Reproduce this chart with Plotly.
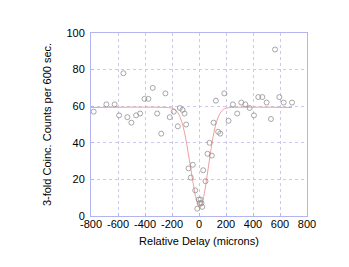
import plotly.graph_objects as go

# measured points
delay = [-780, -686, -625, -592, -560, -531, -501, -466, -436, -404, -375, -343, -310, -280,
         -249, -217, -187, -157, -142, -122, -107, -95, -78, -61, -46, -28, -13, -2, 6, 11,
         18, 24, 31, 48, 63, 78, 95, 108, 125, 142, 157, 187, 219, 251, 283, 313, 343, 375,
         407, 439, 469, 501, 533, 563, 595, 627, 689]
counts = [57, 61, 61, 55, 78, 54, 51, 55, 56, 64, 64, 70, 56, 45,
          67, 54, 57, 49, 59, 58, 56, 50, 26, 21, 28, 14, 4, 9, 7, 9,
          7, 5, 25, 19, 34, 40, 33, 51, 63, 46, 45, 67, 52, 61, 56, 62, 61, 59,
          55, 65, 65, 62, 53, 91, 65, 62, 62]

# fit curve
fit_x = [-800, -240, -200, -180, -160, -140, -120, -100, -80, -60, -40, -20, 0, 10, 20,
         40, 60, 80, 100, 120, 140, 160, 180, 200, 240, 690]
fit_y = [59.3, 59.3, 58.9, 58.2, 56.8, 54.0, 49.5, 43.0, 34.5, 25.5, 16.5, 9.0, 5.0, 4.8, 6.0,
         12.5, 22.0, 32.0, 41.5, 48.8, 53.6, 56.6, 58.2, 58.9, 59.3, 59.3]

x_ticks = [-800, -600, -400, -200, 0, 200, 400, 600, 800]
x_labels = ["-800", "-600", "-400", "-200", "0", "200", "400", "600", "800"]
y_ticks = [0, 20, 40, 60, 80, 100]
y_labels = ["0", "20", "40", "60", "80", "100"]

fig = go.Figure()
fig.add_trace(go.Scatter(x=fit_x, y=fit_y, mode="lines", line_shape="spline",
                         line=dict(color="#f0a0a0", width=1), hoverinfo="skip"))
fig.add_trace(go.Scatter(x=delay, y=counts, mode="markers",
                         marker=dict(symbol="circle-open", size=5, color="#909090",
                                     line=dict(width=0.8, color="#909090"))))

axis_common = dict(showline=True, linecolor="#b4b4f0", linewidth=1, mirror=True,
                   showgrid=True, gridcolor="#c8c8f0", griddash="dot", gridwidth=1,
                   zeroline=False, ticks="inside", ticklen=3, tickcolor="#b4b4f0",
                   automargin=False,
                   tickfont=dict(family="Liberation Sans, Arial", size=11, color="black"))

fig.update_layout(
    width=341, height=259,
    margin=dict(l=83, r=42, t=25, b=51),
    paper_bgcolor="white", plot_bgcolor="white",
    showlegend=False,
    font=dict(family="Liberation Sans, Arial", size=11, color="black"),
    xaxis=dict(range=[-800, 800], tickvals=x_ticks, ticktext=x_labels,
               ticklabelstandoff=-2,
               title=dict(text="Relative Delay (microns)", standoff=8,
                          font=dict(size=11)), **axis_common),
    yaxis=dict(range=[0, 100], tickvals=y_ticks, ticktext=y_labels,
               ticklabelstandoff=3,
               title=dict(text="3-fold Coinc. Counts per 600 sec.", standoff=12,
                          font=dict(size=11)), **axis_common),
)

fig.write_html("out.html")
